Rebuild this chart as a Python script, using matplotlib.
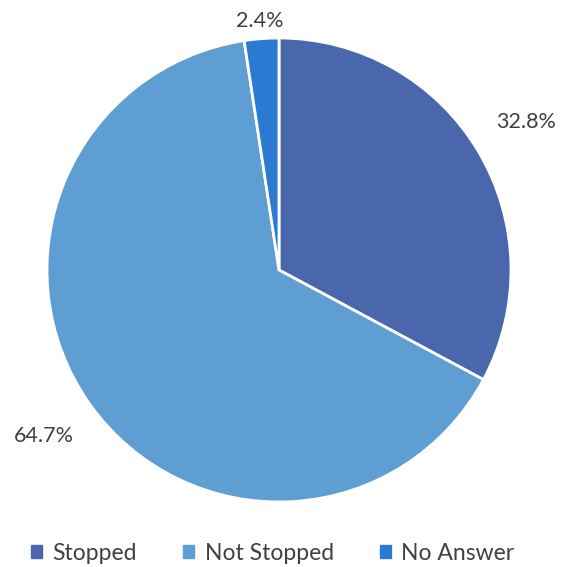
import numpy as np
import matplotlib.pyplot as plt

labels = ['Stopped', 'Not Stopped', 'No Answer']
shares = [32.8, 64.7, 2.4]
colors = ['#4a66ac', '#5f9ed2', '#2c7bd3']
label_dist = [1.24, 1.24, 1.075]

plt.rcParams['font.family'] = ['Lato', 'DejaVu Sans']
text_color = '#404040'

fig = plt.figure(figsize=(5.62, 5.67), dpi=100)
ax = fig.add_axes([47 / 562, 65 / 567, 464 / 562, 464 / 567])

wedges, _ = ax.pie(shares, colors=colors, startangle=90, counterclock=False,
                   radius=1, wedgeprops=dict(edgecolor='white', linewidth=2))

for w, v, d in zip(wedges, shares, label_dist):
    mid = np.deg2rad((w.theta1 + w.theta2) / 2)
    ax.text(d * np.cos(mid), d * np.sin(mid), f'{v:.1f}%', ha='center', va='center',
            fontsize=15.5, color=text_color)

ax.set_xlim(-1, 1)
ax.set_ylim(-1, 1)
ax.set_aspect('equal')
ax.axis('off')

handles = [plt.Rectangle((0, 0), 1, 1, color=c) for c in colors]
fig.legend(handles, labels, loc='center', bbox_to_anchor=(0.485, 1 - 553 / 567), ncol=3,
           frameon=False, fontsize=16.5, labelcolor=text_color, handlelength=0.5,
           handleheight=0.5, handletextpad=0.45, columnspacing=2.0)

fig.savefig('out.png', dpi=100)
